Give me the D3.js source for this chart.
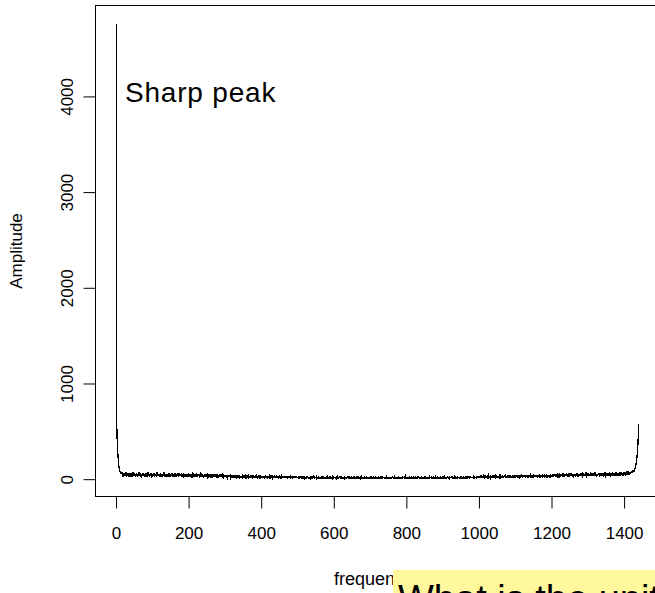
<!DOCTYPE html>
<html>
<head>
<meta charset="utf-8">
<script src="https://cdn.jsdelivr.net/npm/d3@7/dist/d3.min.js"></script>
<style>
    body { margin: 0; background: #fff; }
    svg text { font-family: Arial, "Liberation Sans", sans-serif; fill: #000; }
</style>
</head>
<body>
<div id="chart"></div>
<script>
// amplitude of the spectrum, one value per frequency index (1 .. 1440)
const amplitude = [
    4760, 575, 430, 340, 270, 210, 165, 130, 110, 95, 80, 72, 88, 60, 66, 52, 70, 48, 58, 45,
    38, 52, 29, 61, 44, 35, 72, 41, 27, 55, 48, 33, 63, 39, 46, 30, 58, 42, 25, 50,
    67, 36, 44, 28, 53, 40, 75, 34, 47, 31, 59, 43, 26, 49, 38, 64, 35, 51, 29, 45,
    56, 32, 70, 41, 37, 48, 27, 62, 44, 33, 53, 39, 46, 30, 68, 42, 35, 57, 28, 49,
    40, 61, 34, 45, 26, 52, 38, 73, 31, 47, 43, 29, 58, 36, 50, 41, 33, 65, 39, 27,
    48, 55, 32, 44, 37, 60, 29, 46, 41, 35, 53, 28, 69, 38, 42, 31, 56, 45, 34, 50,
    30, 47, 62, 36, 40, 27, 54, 43, 33, 49, 38, 71, 31, 45, 26, 58, 41, 35, 52, 39,
    44, 29, 57, 37, 48, 32, 66, 40, 28, 51, 36, 43, 30, 59, 34, 46, 25, 53, 41, 38,
    62, 33, 45, 28, 50, 39, 35, 56, 31, 47, 42, 27, 64, 36, 44, 30, 52, 38, 33, 48,
    40, 58, 29, 43, 35, 61, 32, 46, 27, 50, 37, 44, 31, 55, 39, 26, 48, 34, 63, 41,
    30, 45, 36, 52, 28, 40, 33, 57, 38, 29, 47, 35, 42, 26, 54, 37, 31, 49, 44, 32,
    39, 60, 28, 41, 34, 46, 30, 53, 36, 27, 44, 38, 50, 32, 42, 25, 56, 35, 40, 29,
    47, 33, 38, 52, 27, 43, 35, 31, 58, 36, 40, 28, 45, 34, 49, 30, 37, 42, 26, 51,
    33, 39, 44, 29, 36, 55, 31, 41, 27, 46, 35, 38, 30, 48, 33, 26, 43, 37, 52, 31,
    40, 28, 36, 45, 32, 38, 27, 50, 34, 30, 41, 35, 29, 44, 37, 25, 39, 33, 47, 31,
    28, 35, 22, 40, 26, 31, 19, 37, 24, 29, 44, 21, 33, 27, 18, 36, 25, 30, 23, 41,
    27, 20, 34, 24, 29, 17, 38, 26, 22, 32, 28, 19, 35, 23, 30, 26, 21, 39, 25, 18,
    31, 24, 28, 20, 36, 22, 27, 33, 19, 25, 30, 23, 42, 21, 26, 18, 34, 24, 29, 20,
    25, 32, 21, 27, 17, 35, 23, 28, 20, 30, 24, 19, 37, 22, 26, 31, 18, 25, 21, 33,
    23, 28, 16, 30, 24, 20, 34, 22, 27, 18, 25, 31, 21, 26, 19, 29, 23, 17, 32, 24,
    20, 27, 22, 35, 18, 25, 21, 29, 24, 16, 31, 23, 19, 26, 22, 28, 17, 24, 30, 20,
    25, 19, 33, 21, 27, 18, 23, 29, 20, 24, 15, 28, 22, 26, 19, 31, 21, 17, 25, 23,
    20, 27, 18, 24, 22, 30, 16, 25, 21, 19, 28, 23, 17, 26, 20, 32, 18, 24, 21, 27,
    19, 23, 29, 17, 22, 26, 20, 18, 25, 21, 30, 16, 24, 19, 27, 22, 18, 23, 20, 28,
    17, 24, 21, 26, 19, 22, 15, 27, 20, 25, 18, 23, 29, 16, 21, 24, 19, 26, 22, 18,
    20, 14, 23, 17, 12, 19, 26, 15, 18, 11, 22, 16, 20, 13, 17, 24, 14, 19, 10, 21,
    15, 18, 13, 22, 16, 11, 19, 25, 14, 17, 12, 20, 15, 18, 9, 23, 16, 13, 19, 14,
    21, 12, 17, 15, 27, 13, 18, 11, 20, 16, 14, 22, 10, 17, 19, 13, 24, 15, 12, 18,
    14, 20, 11, 16, 23, 13, 17, 10, 19, 15, 21, 12, 18, 14, 9, 22, 16, 13, 20, 11,
    17, 14, 25, 12, 18, 15, 10, 20, 13, 16, 22, 11, 17, 14, 19, 12, 26, 15, 10, 18,
    13, 17, 21, 11, 16, 14, 19, 9, 15, 23, 12, 18, 14, 10, 17, 20, 13, 16, 11, 24,
    15, 12, 18, 14, 20, 10, 16, 13, 22, 11, 17, 15, 9, 19, 14, 12, 21, 16, 13, 18,
    11, 15, 20, 12, 17, 14, 10, 24, 13, 16, 18, 11, 15, 21, 12, 14, 9, 19, 16, 13,
    17, 12, 22, 14, 10, 18, 15, 13, 20, 11, 16, 14, 19, 9, 17, 12, 25, 15, 13, 18,
    10, 16, 14, 21, 12, 17, 13, 11, 19, 15, 23, 12, 16, 10, 18, 14, 20, 13, 15, 11,
    19, 14, 12, 17, 26, 13, 15, 10, 20, 16, 12, 18, 14, 11, 22, 15, 13, 17, 9, 19,
    14, 16, 11, 21, 13, 18, 15, 10, 17, 12, 24, 14, 16, 11, 19, 13, 15, 20, 12, 17,
    10, 15, 18, 13, 22, 11, 16, 14, 12, 19, 15, 10, 17, 13, 21, 14, 11, 16, 18, 12,
    15, 20, 13, 10, 17, 14, 23, 12, 16, 11, 18, 15, 13, 19, 10, 16, 14, 22, 12, 17,
    13, 11, 18, 15, 20, 12, 16, 14, 10, 21, 13, 17, 15, 11, 19, 14, 12, 27, 13, 16,
    11, 17, 14, 19, 12, 15, 10, 22, 13, 16, 18, 11, 14, 20, 12, 17, 15, 10, 23, 13,
    16, 14, 19, 11, 15, 21, 12, 17, 13, 10, 18, 14, 16, 24, 12, 15, 11, 19, 13, 17,
    14, 20, 12, 16, 10, 18, 15, 13, 22, 11, 17, 14, 19, 12, 16, 10, 21, 15, 13, 18,
    12, 16, 14, 23, 11, 17, 15, 13, 19, 10, 18, 14, 16, 12, 20, 15, 11, 17, 13, 25,
    14, 11, 18, 16, 13, 21, 12, 15, 19, 10, 17, 14, 22, 13, 16, 11, 18, 15, 12, 20,
    16, 13, 19, 12, 24, 14, 17, 11, 20, 15, 13, 18, 16, 22, 12, 17, 14, 19, 11, 21,
    15, 18, 13, 23, 16, 12, 20, 14, 17, 19, 13, 26, 15, 18, 12, 21, 16, 14, 19, 17,
    22, 13, 18, 15, 20, 12, 17, 24, 14, 19, 16, 13, 21, 15, 18, 12, 25, 16, 20, 14,
    17, 23, 15, 19, 13, 21, 16, 18, 14, 27, 17, 20, 15, 22, 13, 19, 16, 24, 18, 15,
    21, 16, 19, 14, 25, 17, 20, 15, 23, 18, 16, 22, 19, 14, 26, 17, 21, 18, 24, 16,
    22, 28, 19, 25, 33, 21, 27, 18, 30, 24, 20, 35, 23, 26, 19, 29, 22, 31, 25, 20,
    27, 23, 32, 19, 26, 38, 22, 28, 21, 25, 30, 18, 34, 24, 27, 20, 29, 23, 36, 21,
    26, 31, 22, 28, 19, 33, 25, 21, 40, 24, 27, 20, 30, 23, 26, 35, 22, 29, 18, 32,
    25, 28, 21, 37, 24, 30, 19, 27, 23, 33, 26, 22, 29, 41, 24, 28, 20, 31, 25, 34,
    22, 27, 36, 23, 30, 19, 26, 33, 24, 28, 21, 38, 25, 29, 23, 32, 20, 27, 35, 24,
    30, 22, 28, 43, 25, 31, 21, 27, 34, 24, 29, 20, 36, 26, 32, 23, 28, 39, 25, 30,
    22, 33, 27, 24, 31, 45, 26, 29, 21, 35, 28, 24, 32, 27, 38, 23, 30, 26, 34, 29,
    25, 41, 28, 32, 24, 36, 27, 30, 22, 38, 29, 26, 33, 47, 28, 31, 25, 35, 30, 27,
    34, 26, 39, 29, 32, 24, 37, 31, 28, 44, 27, 33, 30, 25, 40, 29, 35, 28, 32, 26,
    38, 31, 29, 35, 27, 48, 30, 34, 26, 37, 32, 29, 41, 28, 35, 31, 27, 39, 33, 30,
    36, 42, 29, 47, 33, 38, 55, 31, 44, 35, 40, 28, 51, 37, 43, 32, 46, 39, 58, 34,
    41, 30, 48, 36, 53, 33, 39, 45, 31, 62, 37, 42, 34, 49, 38, 44, 29, 56, 40, 35,
    47, 33, 52, 38, 43, 30, 60, 39, 45, 34, 50, 37, 41, 66, 35, 48, 32, 44, 39, 54,
    36, 46, 31, 57, 40, 43, 35, 51, 38, 68, 42, 34, 49, 37, 45, 33, 55, 41, 39, 47,
    32, 61, 44, 38, 50, 35, 46, 41, 58, 36, 43, 49, 34, 52, 40, 71, 37, 45, 42, 54,
    38, 47, 33, 56, 43, 39, 51, 36, 64, 44, 40, 48, 35, 59, 42, 46, 37, 53, 41, 75,
    44, 39, 50, 42, 57, 36, 48, 45, 62, 40, 53, 38, 47, 43, 68, 41, 55, 46, 39, 51,
    43, 58, 40, 49, 46, 72, 42, 54, 38, 50, 45, 61, 44, 48, 41, 66, 47, 52, 43, 57,
    46, 40, 63, 49, 44, 55, 42, 70, 48, 51, 45, 59, 43, 53, 47, 78, 50, 44, 57, 49,
    52, 46, 65, 48, 55, 43, 61, 50, 47, 74, 53, 49, 58, 45, 67, 51, 56, 48, 62, 54,
    50, 70, 55, 47, 63, 58, 52, 80, 56, 60, 53, 68, 59, 64, 57, 75, 62, 69, 66, 72,
    68, 82, 64, 90, 75, 96, 80, 105, 88, 115, 125, 140, 160, 185, 210, 250, 300, 360, 440, 580
];

const xTickValues = [0, 200, 400, 600, 800, 1000, 1200, 1400];
const yTickValues = [0, 1000, 2000, 3000, 4000];
const xTitle = "frequency";
const yTitle = "Amplitude";
const peakNote = "Sharp peak";
const question = "What is the unit";

class SpectrumChart {
    constructor(element, configs = {}) {
        let defaultConfig = {
            width: 655,
            height: 593,
            plot: { left: 95.5, right: 659.5, top: 5.5, bottom: 496.5 }
        };
        this.config = Object.assign({}, defaultConfig, configs);
        this.svg = d3.select(element).append("svg")
            .attr("width", this.config.width)
            .attr("height", this.config.height);
        this.draw();
    }

    // R style: extend the data range by 4% on each side
    padRange(extent) {
        let pad = (extent[1] - extent[0]) * 0.04;
        return [extent[0] - pad, extent[1] + pad];
    }

    generateRange() {
        let p = this.config.plot;
        this.xRange = d3.scaleLinear()
            .domain(this.padRange([1, amplitude.length]))
            .range([p.left, p.right]);
        this.yRange = d3.scaleLinear()
            .domain(this.padRange(d3.extent(amplitude)))
            .range([p.bottom, p.top]);
    }

    drawAxes() {
        let p = this.config.plot;

        let xAxis = this.svg.append("g")
            .attr("transform", "translate(0," + p.bottom + ")")
            .call(d3.axisBottom(this.xRange).tickValues(xTickValues).tickSize(12).tickPadding(18).tickFormat(d3.format("d")));
        xAxis.select(".domain").remove();
        xAxis.selectAll("line").attr("stroke", "#000");
        xAxis.selectAll("text").attr("font-size", 17).attr("font-family", null).attr("fill", "#222");

        let yAxis = this.svg.append("g")
            .attr("transform", "translate(" + p.left + ",0)")
            .call(d3.axisLeft(this.yRange).tickValues(yTickValues).tickSize(12).tickFormat(d3.format("d")));
        yAxis.select(".domain").remove();
        yAxis.selectAll("line").attr("stroke", "#000");
        yAxis.selectAll("text")
            .attr("font-size", 17)
            .attr("font-family", null)
            .attr("fill", "#222")
            .attr("text-anchor", "middle")
            .attr("x", null)
            .attr("dy", null)
            .attr("transform", "translate(-23,0) rotate(-90)");

        this.svg.append("text")
            .attr("transform", "translate(22," + ((p.top + p.bottom) / 2) + ") rotate(-90)")
            .attr("text-anchor", "middle")
            .attr("font-size", 17)
            .attr("fill", "#222")
            .text(yTitle);

        this.svg.append("text")
            .attr("x", (p.left + p.right) / 2 - 4)
            .attr("y", 585)
            .attr("text-anchor", "middle")
            .attr("font-size", 18)
            .attr("fill", "#222")
            .text(xTitle);
    }

    drawBox() {
        let p = this.config.plot;
        this.svg.append("rect")
            .attr("x", p.left)
            .attr("y", p.top)
            .attr("width", p.right - p.left)
            .attr("height", p.bottom - p.top)
            .attr("fill", "none")
            .attr("stroke", "#000");
    }

    drawLine() {
        let line = d3.line()
            .x((d, i) => this.xRange(i + 1))
            .y(d => this.yRange(d));

        // non antialiased like the R windows device
        this.svg.append("path")
            .datum(amplitude)
            .attr("fill", "none")
            .attr("stroke", "#000")
            .attr("stroke-width", 1.3)
            .attr("shape-rendering", "crispEdges")
            .attr("d", line);
    }

    drawNotes() {
        this.svg.append("text")
            .attr("x", 125)
            .attr("y", 102)
            .attr("font-size", 28)
            .attr("letter-spacing", 0.8)
            .text(peakNote);

        // yellow sticky note over the x title
        this.svg.append("rect")
            .attr("x", 393)
            .attr("y", 570)
            .attr("width", 270)
            .attr("height", 30)
            .attr("fill", "#fff89c");

        this.svg.append("text")
            .attr("x", 398)
            .attr("y", 612)
            .attr("font-size", 38)
            .text(question);
    }

    draw() {
        this.generateRange();
        this.drawBox();
        this.drawAxes();
        this.drawLine();
        this.drawNotes();
    }
}

new SpectrumChart("#chart");
</script>
</body>
</html>
